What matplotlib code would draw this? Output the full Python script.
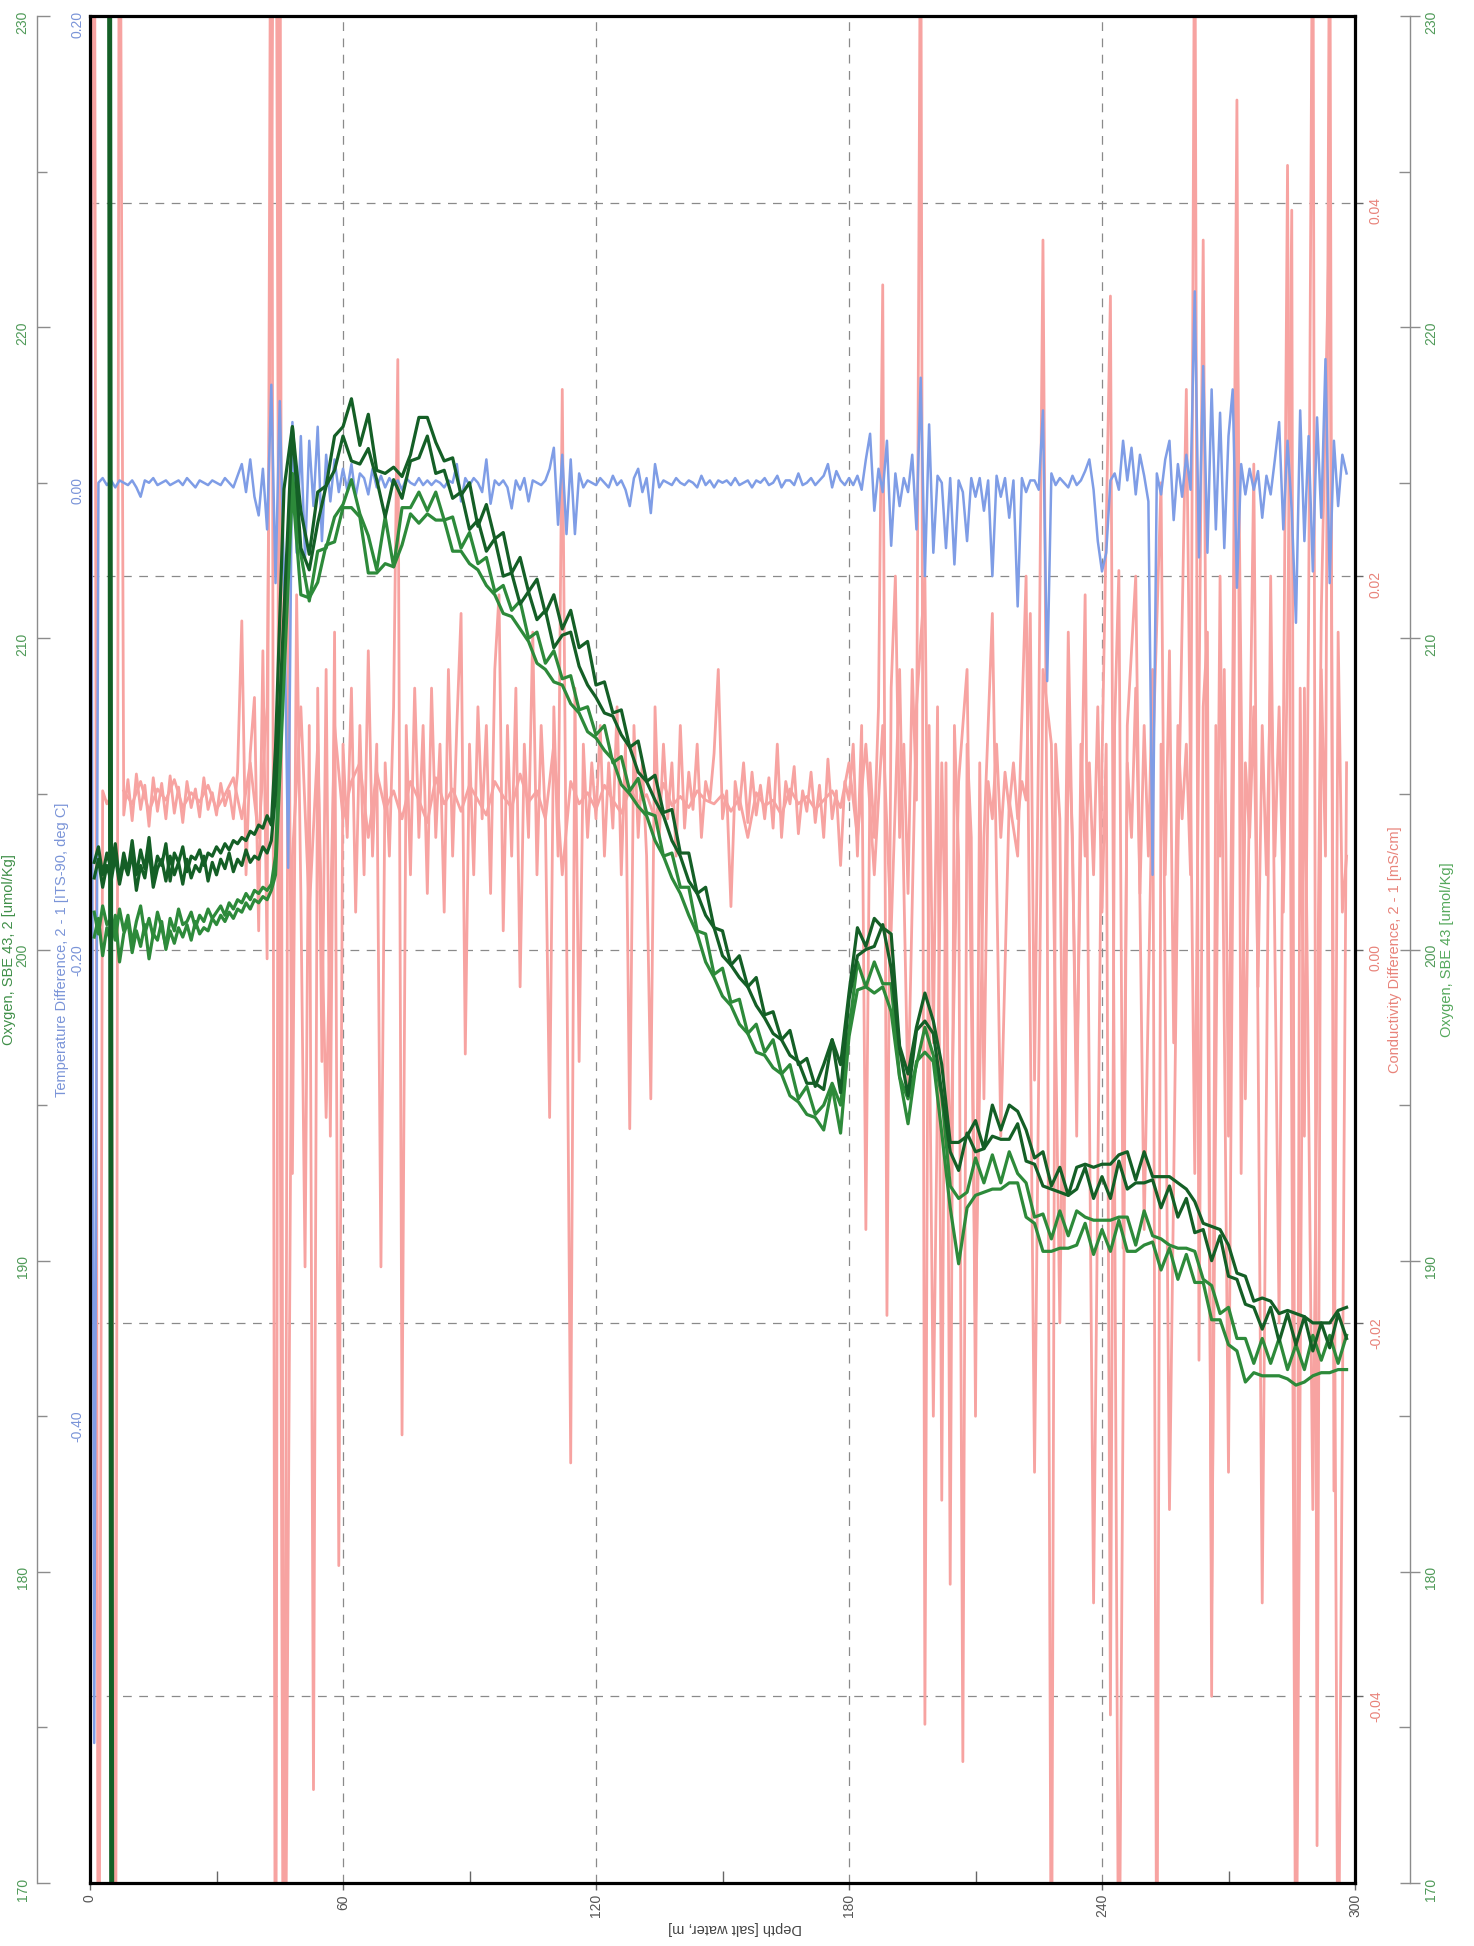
import matplotlib
matplotlib.use("Agg")
import matplotlib.pyplot as plt
from matplotlib.ticker import MultipleLocator, FixedLocator

plt.rcParams['font.family'] = ['Liberation Sans', 'DejaVu Sans']

# ---------------- data ----------------
# oxygen traces, 1 m steps to 44 m then 2 m steps
ox_depth = list(range(1, 45)) + list(range(46, 299, 2))

ox_dark1 = [202.8, 203.3, 202.4, 203.1, 202.6, 203.4, 202.2, 203.1, 202.5, 203.5,
            202.4, 203.2, 202.6, 203.6, 202.3, 203.0, 202.7, 203.4, 202.2, 203.1,
            202.8, 203.3, 202.5, 203.0, 202.9, 203.2, 202.7, 203.1, 203.0, 203.3,
            203.1, 203.4, 203.2, 203.5, 203.4, 203.6, 203.5, 203.8, 203.7, 204.0,
            203.9, 204.3, 204.0, 206.5,
            214.8, 216.8, 214.1, 212.7, 214.7, 214.9, 216.5, 216.8, 217.7, 216.2,
            217.2, 215.4, 215.3, 215.5, 215.2, 215.9, 217.1, 217.1, 216.3, 215.7,
            215.8, 214.6, 215.0, 213.6, 214.3, 213.2, 213.4, 212.1, 212.6, 211.5,
            211.9, 210.8, 211.4, 210.3, 210.9, 209.7, 209.9, 208.5, 208.6, 207.6,
            207.7, 206.5, 206.7, 205.4, 205.6, 204.4, 204.5, 203.1, 203.1, 201.8,
            202.0, 200.7, 200.6, 199.5, 199.8, 198.8, 199.1, 197.9, 198.0, 197.1,
            197.4, 196.3, 196.5, 195.6, 196.3, 197.1, 196.3, 198.6, 200.7, 200.1,
            201.0, 200.7, 200.5, 196.9, 196.0, 197.5, 198.6, 197.7, 196.3, 193.8,
            193.8, 194.0, 194.5, 193.6, 195.0, 194.2, 195.0, 194.8, 194.2, 193.3,
            193.5, 192.4, 193.0, 192.1, 193.0, 193.1, 193.0, 193.1, 193.1, 193.4,
            193.5, 192.6, 193.5, 192.7, 192.7, 192.7, 192.5, 192.3, 191.9, 191.2,
            191.1, 191.0, 190.5, 189.6, 189.5, 188.7, 188.8, 188.7, 188.3, 188.4,
            188.3, 188.2, 188.0, 188.0, 188.0, 188.4, 188.5]

ox_dark2 = [202.3, 202.9, 202.0, 202.7, 202.2, 203.0, 202.1, 202.8, 202.4, 203.1,
            201.9, 202.7, 202.3, 203.2, 202.0, 202.6, 202.9, 202.2, 203.0, 202.4,
            202.8, 202.1, 202.9, 202.3, 202.7, 202.5, 203.0, 202.2, 202.8, 202.4,
            202.9, 202.6, 203.1, 202.5, 202.9, 202.7, 203.2, 202.8, 203.0, 202.9,
            203.3, 203.1, 203.5, 205.0,
            210.8, 216.8, 212.9, 212.2, 213.7, 214.9, 215.4, 216.5, 215.7, 215.6,
            216.1, 215.1, 213.9, 215.1, 214.5, 215.7, 215.8, 216.5, 215.3, 215.4,
            214.5, 214.7, 213.5, 213.8, 212.8, 213.2, 212.0, 212.1, 211.1, 211.5,
            210.6, 210.9, 209.7, 210.1, 210.2, 209.1, 208.5, 208.1, 207.6, 207.5,
            206.9, 206.5, 205.7, 205.4, 204.8, 204.3, 203.5, 203.0, 202.2, 201.8,
            201.1, 200.7, 199.8, 199.5, 199.1, 198.8, 198.2, 197.8, 197.3, 197.1,
            196.6, 196.4, 195.7, 195.7, 195.5, 197.1, 195.4, 198.4, 199.8, 200.0,
            200.1, 200.8, 199.4, 196.8, 195.3, 197.4, 197.7, 197.3, 195.4, 193.5,
            192.9, 194.1, 193.5, 193.6, 194.0, 193.9, 193.9, 194.4, 193.2, 193.1,
            192.4, 192.3, 192.2, 192.1, 192.3, 193.0, 192.0, 192.7, 192.0, 193.2,
            192.3, 192.5, 192.5, 192.6, 191.7, 192.4, 191.4, 192.0, 190.9, 191.0,
            190.0, 190.8, 189.5, 189.4, 188.6, 188.5, 187.8, 188.5, 187.4, 188.3,
            187.3, 188.2, 187.1, 188.0, 187.2, 188.3, 187.5]

ox_mid1 = [201.2, 200.5, 201.4, 200.8, 201.0, 200.3, 201.3, 200.6, 201.1, 200.2,
           200.9, 201.4, 200.5, 201.0, 200.4, 201.2, 200.7, 200.1, 201.0, 200.6,
           201.3, 200.8, 200.9, 201.2, 200.7, 201.1, 200.9, 201.3, 201.0, 201.2,
           201.4, 201.1, 201.5, 201.3, 201.6, 201.5, 201.8, 201.6, 201.9, 201.8,
           202.0, 201.9, 202.1, 203.0,
           210.2, 215.3, 212.7, 211.2, 212.8, 212.9, 213.9, 214.3, 215.1, 214.0,
           213.3, 212.2, 213.9, 212.3, 214.2, 214.2, 214.7, 214.1, 214.7, 213.8,
           213.9, 212.9, 213.4, 212.4, 212.6, 211.5, 211.7, 210.9, 211.2, 210.0,
           210.2, 209.2, 209.6, 208.7, 208.8, 207.7, 207.8, 206.9, 207.2, 206.0,
           206.2, 205.1, 205.5, 204.4, 204.3, 203.0, 203.1, 202.0, 202.0, 200.6,
           200.5, 199.2, 199.4, 198.3, 198.4, 197.3, 197.6, 196.7, 197.1, 196.0,
           196.3, 195.2, 195.6, 194.7, 195.0, 195.7, 195.0, 197.4, 199.6, 198.8,
           199.6, 198.9, 198.9, 195.9, 195.2, 196.3, 197.5, 196.6, 195.3, 192.4,
           192.0, 192.2, 193.3, 192.5, 193.4, 192.5, 193.5, 192.8, 192.5, 191.4,
           191.5, 190.7, 191.6, 190.8, 191.6, 191.4, 191.3, 191.3, 191.3, 191.4,
           191.4, 190.5, 191.6, 190.8, 190.7, 190.5, 190.4, 190.4, 190.3, 189.4,
           189.2, 188.3, 188.5, 187.5, 187.5, 186.7, 187.5, 186.7, 187.5, 186.5,
           187.3, 186.5, 187.6, 186.8, 187.6, 186.7, 187.6]

ox_mid2 = [200.4, 201.0, 199.8, 200.7, 200.2, 201.1, 199.6, 200.5, 200.9, 199.9,
           200.6, 200.1, 200.8, 199.7, 200.5, 200.3, 200.9, 200.0, 200.6, 200.2,
           200.7, 200.4, 200.8, 200.3, 200.9, 200.5, 200.7, 200.6, 201.0, 200.8,
           201.1, 200.9, 201.2, 201.0, 201.3, 201.2, 201.5, 201.3, 201.6, 201.5,
           201.7, 201.6, 201.9, 202.4,
           208.7, 214.9, 211.4, 211.3, 211.8, 213.0, 213.1, 214.2, 214.2, 213.9,
           212.1, 212.1, 212.4, 212.3, 213.0, 214.0, 213.7, 214.0, 213.8, 213.8,
           212.8, 212.8, 212.4, 212.2, 211.7, 211.4, 210.8, 210.7, 210.3, 209.9,
           209.2, 209.0, 208.6, 208.5, 207.9, 207.6, 207.0, 206.8, 206.4, 206.1,
           205.3, 205.0, 204.6, 204.3, 203.5, 203.0, 202.3, 201.8, 201.1, 200.5,
           199.6, 199.1, 198.5, 198.2, 197.6, 197.3, 196.7, 196.6, 196.2, 196.0,
           195.3, 195.1, 194.7, 194.6, 194.2, 195.6, 194.1, 197.2, 198.7, 198.8,
           198.6, 198.8, 198.0, 195.9, 194.4, 196.4, 196.7, 196.4, 194.1, 191.7,
           189.9, 191.7, 192.1, 192.2, 192.3, 192.3, 192.5, 192.5, 191.4, 191.2,
           190.3, 190.3, 190.4, 190.4, 190.5, 191.2, 190.2, 191.0, 190.3, 191.3,
           190.3, 190.3, 190.5, 190.6, 189.7, 190.4, 189.4, 190.2, 189.3, 189.3,
           188.1, 188.1, 187.3, 187.1, 186.1, 186.4, 186.3, 186.3, 186.3, 186.2,
           186.0, 186.1, 186.3, 186.4, 186.4, 186.5, 186.5]

# surface excursion of the oxygen sensor (off scale both ways)
ox_surf_depth = [4.5, 5.3]
ox_surf_val = [250.0, 150.0]

# temperature difference, 1 m steps
temp_depth = list(range(0, 299))
temp_diff = [0.300, -0.540, 0.000, 0.002, -0.001, 0.001, -0.002, 0.001, 0.000, -0.001,
             0.001, -0.002, -0.006, 0.001, 0.000, 0.002, -0.001, 0.000, 0.001, -0.001,
             0.000, 0.001, -0.001, 0.002, 0.000, -0.002, 0.001, 0.000, -0.001, 0.001,
             0.000, -0.001, 0.002, 0.000, -0.002, 0.003, 0.008, -0.004, 0.010, -0.006,
             -0.014, 0.006, -0.020, 0.042, -0.043, 0.035, -0.040, -0.165, 0.026, -0.030,
             0.020, -0.032, 0.018, -0.010, 0.024, -0.025, 0.012, -0.008, 0.010, -0.004,
             0.006, -0.003, 0.008, -0.006, 0.004, 0.002, -0.005, 0.006, -0.002, 0.003,
             -0.002, 0.002, -0.001, 0.001, -0.003, 0.002, 0.000, -0.001, 0.002, -0.001,
             0.001, -0.001, 0.001, 0.000, -0.002, 0.001, 0.000, 0.008, -0.008, 0.002,
             -0.001, 0.002, 0.000, -0.004, 0.010, -0.009, 0.001, -0.001, 0.001, -0.002,
             -0.011, 0.001, -0.003, 0.002, -0.008, 0.001, 0.000, -0.001, 0.001, 0.006,
             0.015, -0.018, 0.012, -0.022, 0.010, -0.022, 0.004, -0.002, 0.001, 0.000,
             -0.001, 0.002, 0.000, -0.002, 0.003, -0.001, 0.001, -0.003, -0.010, 0.002,
             0.006, -0.004, 0.002, -0.013, 0.008, -0.002, 0.001, 0.000, -0.001, 0.002,
             0.000, -0.001, 0.001, 0.000, -0.002, 0.003, -0.001, 0.001, -0.002, 0.001,
             0.000, 0.001, -0.001, 0.002, -0.001, 0.000, 0.001, -0.002, 0.001, 0.000,
             0.002, -0.001, 0.000, 0.003, -0.002, 0.001, 0.001, -0.001, 0.004, -0.001,
             0.000, 0.002, -0.001, 0.001, 0.003, 0.008, -0.002, 0.005, 0.001, -0.001,
             0.002, -0.001, 0.003, -0.003, 0.010, 0.021, -0.012, 0.006, -0.004, 0.018,
             -0.027, 0.004, -0.010, 0.002, -0.004, 0.012, -0.020, 0.045, -0.040, 0.025,
             -0.030, 0.003, 0.000, -0.028, 0.002, -0.035, 0.001, -0.004, -0.025, 0.002,
             -0.006, 0.002, -0.012, 0.001, -0.040, 0.003, -0.006, 0.002, -0.015, 0.001,
             -0.053, 0.002, -0.004, 0.001, 0.001, -0.003, 0.031, -0.085, 0.004, -0.001,
             0.002, 0.000, -0.002, 0.003, -0.001, 0.001, 0.005, 0.010, -0.003, -0.025,
             -0.038, -0.030, 0.001, 0.004, -0.003, 0.018, 0.001, 0.015, -0.005, 0.012,
             0.003, -0.008, -0.168, 0.004, -0.005, 0.010, 0.018, -0.016, 0.008, -0.006,
             0.012, -0.003, 0.082, -0.032, 0.050, -0.030, 0.040, -0.020, 0.030, -0.028,
             0.020, 0.040, -0.045, 0.008, -0.005, 0.006, -0.003, 0.005, -0.015, 0.003,
             -0.005, 0.010, 0.026, -0.020, 0.018, -0.012, -0.060, 0.031, -0.025, 0.020,
             -0.038, 0.028, -0.015, 0.053, -0.043, 0.018, -0.010, 0.012, 0.004]

# conductivity difference, trace A (1 m steps) and trace B (2 m steps)
cond_a_depth = list(range(0, 299))
cond_a = [0.0080, 0.0700, -0.0700, 0.0085, 0.0078, 0.0082, -0.0700, 0.0700, 0.0072, 0.0091,
          0.0069, 0.0094, 0.0075, 0.0088, 0.0066, 0.0092, 0.0074, 0.0089, 0.0070, 0.0093,
          0.0073, 0.0087, 0.0068, 0.0090, 0.0076, 0.0086, 0.0071, 0.0092, 0.0075, 0.0084,
          0.0072, 0.0089, 0.0077, 0.0085, 0.0070, 0.0095, 0.0176, 0.0040, 0.0105, 0.0135,
          0.0010, 0.0160, -0.0005, 0.0700, -0.0700, 0.0700, -0.0700, 0.0200, -0.0120, 0.0190,
          0.0030, -0.0170, 0.0120, -0.0450, 0.0140, -0.0060, 0.0150, -0.0100, 0.0170, -0.0330,
          0.0110, 0.0060, 0.0140, 0.0020, 0.0120, 0.0040, 0.0160, 0.0050, 0.0110, -0.0170,
          0.0100, 0.0050, 0.0130, 0.0316, -0.0260, 0.0120, 0.0040, 0.0140, 0.0060, 0.0120,
          0.0030, 0.0140, 0.0060, 0.0110, 0.0020, 0.0150, 0.0050, 0.0120, 0.0180, -0.0056,
          0.0110, 0.0040, 0.0130, 0.0070, 0.0120, 0.0030, 0.0150, 0.0190, 0.0010, 0.0120,
          0.0050, 0.0140, -0.0020, 0.0110, 0.0060, 0.0170, 0.0040, 0.0120, 0.0070, -0.0090,
          0.0130, 0.0050, 0.0300, 0.0020, -0.0275, 0.0140, -0.0060, 0.0110, 0.0060, 0.0100,
          0.0070, 0.0120, 0.0050, 0.0100, 0.0065, 0.0130, 0.0040, 0.0110, -0.0096, 0.0120,
          0.0060, 0.0100, 0.0050, -0.0080, 0.0130, 0.0060, 0.0110, 0.0070, 0.0100, 0.0050,
          0.0120, 0.0065, 0.0095, 0.0075, 0.0110, 0.0060, 0.0090, 0.0080, 0.0105, 0.0150,
          0.0070, 0.0085, 0.0023, 0.0090, 0.0075, 0.0100, 0.0068, 0.0095, 0.0072, 0.0088,
          0.0070, 0.0092, 0.0065, 0.0110, 0.0060, 0.0090, 0.0078, 0.0098, 0.0062, 0.0085,
          0.0074, 0.0095, 0.0068, 0.0088, 0.0060, 0.0102, 0.0070, 0.0085, 0.0045, 0.0090,
          0.0080, 0.0110, 0.0050, 0.0120, -0.0150, 0.0100, 0.0060, 0.0130, 0.0356, -0.0196,
          0.0140, 0.0200, 0.0060, 0.0110, 0.0030, 0.0150, 0.0080, 0.0600, -0.0415, 0.0120,
          -0.0050, 0.0130, -0.0295, 0.0100, -0.0340, 0.0120, 0.0050, -0.0435, 0.0110, 0.0060,
          -0.0250, 0.0100, -0.0080, 0.0090, 0.0070, 0.0110, 0.0060, 0.0095, 0.0075, 0.0100,
          0.0070, 0.0090, 0.0080, 0.0180, -0.0070, 0.0120, 0.0380, 0.0040, -0.0600, 0.0110,
          0.0070, -0.0160, 0.0120, 0.0060, -0.0100, 0.0110, 0.0050, 0.0100, 0.0040, 0.0130,
          0.0020, 0.0110, -0.0410, 0.0120, 0.0203, -0.0160, 0.0100, 0.0060, 0.0140, 0.0030,
          0.0120, 0.0050, 0.0150, -0.0600, 0.0110, 0.0040, 0.0160, -0.0050, 0.0120, 0.0070,
          0.0110, 0.0040, 0.0600, -0.0220, 0.0130, 0.0170, -0.0400, 0.0120, 0.0050, 0.0150,
          -0.0100, 0.0140, 0.0455, -0.0120, 0.0100, 0.0060, 0.0130, -0.0020, 0.0120, 0.0040,
          0.0150, 0.0050, 0.0130, 0.0020, 0.0160, 0.0396, -0.0600, 0.0140, -0.0100, 0.0180,
          0.0600, -0.0480, 0.0150, 0.0050, 0.0600, -0.0290, 0.0170, 0.0020, 0.0050]

cond_b_depth = list(range(8, 299, 2))
cond_b = [0.0085, 0.0078, 0.0090, 0.0074, 0.0086, 0.0080, 0.0091, 0.0076, 0.0084, 0.0079,
          0.0088, 0.0075, 0.0083, 0.0092, 0.0070, 0.0100, 0.0060, 0.0130, 0.0700, -0.0700,
          0.0050, 0.0130, 0.0020, 0.0110, -0.0090, 0.0120, 0.0070, 0.0090, 0.0100, 0.0060,
          0.0095, 0.0075, 0.0085, 0.0070, 0.0090, 0.0080, 0.0068, 0.0092, 0.0078, 0.0086,
          0.0074, 0.0088, 0.0080, 0.0072, 0.0090, 0.0082, 0.0076, 0.0094, 0.0079, 0.0085,
          0.0070, 0.0110, 0.0040, 0.0090, 0.0078, 0.0084, 0.0075, 0.0088, 0.0080, 0.0073,
          0.0086, 0.0079, 0.0083, 0.0070, 0.0089, 0.0077, 0.0082, 0.0076, 0.0085, 0.0080,
          0.0078, 0.0083, 0.0074, 0.0081, 0.0060, 0.0084, 0.0077, 0.0080, 0.0072, 0.0086,
          0.0078, 0.0082, 0.0075, 0.0080, 0.0085, 0.0076, 0.0100, 0.0060, 0.0110, 0.0040,
          0.0120, 0.0010, 0.0150, -0.0080, 0.0130, 0.0200, -0.0250, 0.0100, -0.0120, 0.0090,
          0.0150, -0.0200, 0.0060, 0.0180, -0.0100, 0.0080, 0.0050, 0.0200, -0.0280, 0.0150,
          0.0110, -0.0200, 0.0170, -0.0070, 0.0190, -0.0350, 0.0100, 0.0350, -0.0600, 0.0120,
          0.0200, -0.0150, 0.0100, 0.0250, -0.0300, 0.0050, 0.0300, -0.0120, 0.0380, -0.0350,
          0.0200, -0.0280, 0.0350, -0.0080, 0.0260, -0.0350, 0.0200, -0.0200, 0.0420, -0.0600,
          0.0140, -0.0300, 0.0180, 0.0400, -0.0600, 0.0100]

depth_ticks = [0, 60, 120, 180, 240, 300]
temp_ticks = [0.20, 0.00, -0.20, -0.40]
cond_ticks = [0.04, 0.02, 0.00, -0.02, -0.04]
oxy_ticks = [170, 180, 190, 200, 210, 220, 230]

# ---------------- style ----------------
PINK = '#f7a3a1'
BLUE = '#7f9de6'
DKGREEN = '#145f26'
MDGREEN = '#2d8a3a'
PINK_TXT = '#e8837a'
BLUE_TXT = '#7a94d8'
GREEN_TXT = '#4f9a58'
GRID = '#8a8a8a'

W, H = 1474, 1946
fig = plt.figure(figsize=(W / 100, H / 100), dpi=100)
rect = [90 / W, (H - 1883) / H, 1265 / W, 1867 / H]

ax_c = fig.add_axes(rect, label='cond', zorder=1)
ax_t = fig.add_axes(rect, label='temp', zorder=2, facecolor='none')
ax_o = fig.add_axes(rect, label='oxy2', zorder=3, facecolor='none')
ax_o2 = fig.add_axes(rect, label='oxy', zorder=4, facecolor='none')
frame = fig.add_axes(rect, label='frame', zorder=5, facecolor='none')

for a in (ax_c, ax_t, ax_o, ax_o2, frame):
    a.set_xlim(0, 300)
    for s in a.spines.values():
        s.set_visible(False)

# conductivity (bottom layer, carries grid and depth axis)
ax_c.plot(cond_a_depth, cond_a, color=PINK, lw=2.0)
ax_c.plot(cond_b_depth, cond_b, color=PINK, lw=2.0)
ax_c.set_ylim(-0.05, 0.05)
ax_c.yaxis.tick_right()
ax_c.set_yticks(cond_ticks)
ax_c.set_yticklabels(['%.2f' % v for v in cond_ticks])
ax_c.tick_params(axis='y', labelcolor=PINK_TXT, color='#666666', labelrotation=90,
                 length=6, width=1, pad=4, labelsize=10)
ax_c.set_xticks(depth_ticks)
ax_c.xaxis.set_minor_locator(FixedLocator([30, 90, 150, 210, 270]))
ax_c.tick_params(axis='x', which='major', direction='out', length=5, width=1,
                 color='#666666', labelcolor='#555555', labelrotation=90, labelsize=10, pad=3)
ax_c.tick_params(axis='x', which='minor', direction='in', length=9, width=1, color='#666666')
ax_c.grid(axis='both', which='major', color=GRID, lw=0.9, linestyle=(0, (7, 6)))
ax_c.set_axisbelow(True)

# temperature difference
ax_t.plot(temp_depth, temp_diff, color=BLUE, lw=1.8)
ax_t.set_ylim(-0.6, 0.2)
ax_t.set_yticks(temp_ticks)
ax_t.set_yticklabels(['%.2f' % v for v in temp_ticks])
ax_t.tick_params(axis='y', labelcolor=BLUE_TXT, labelrotation=90, length=0, pad=4, labelsize=10)
ax_t.xaxis.set_visible(False)

# oxygen (left outer axis)
ax_o.plot(ox_depth, ox_mid2, color=MDGREEN, lw=2.3)
ax_o.plot(ox_depth, ox_mid1, color=MDGREEN, lw=2.3)
ax_o.plot(ox_depth, ox_dark2, color=DKGREEN, lw=2.3)
ax_o.plot(ox_depth, ox_dark1, color=DKGREEN, lw=2.3)
ax_o.plot(ox_surf_depth, ox_surf_val, color=DKGREEN, lw=3.6)
ax_o.set_ylim(170, 230)
ax_o.spines['left'].set_visible(True)
ax_o.spines['left'].set_position(('outward', 38.5))
ax_o.spines['left'].set_color('#8c8c8c')
ax_o.spines['left'].set_linewidth(1)
ax_o.set_yticks(oxy_ticks)
ax_o.yaxis.set_minor_locator(MultipleLocator(5))
ax_o.tick_params(axis='y', which='major', direction='in', length=9, width=1, color='#8c8c8c',
                 labelcolor=GREEN_TXT, labelrotation=90, pad=5, labelsize=10)
ax_o.tick_params(axis='y', which='minor', direction='in', length=7, width=1, color='#8c8c8c')
ax_o.xaxis.set_visible(False)

# oxygen (right outer axis)
ax_o2.set_ylim(170, 230)
ax_o2.yaxis.tick_right()
ax_o2.spines['right'].set_visible(True)
ax_o2.spines['right'].set_position(('outward', 39.6))
ax_o2.spines['right'].set_color('#8c8c8c')
ax_o2.spines['right'].set_linewidth(1)
ax_o2.set_yticks(oxy_ticks)
ax_o2.yaxis.set_minor_locator(MultipleLocator(5))
ax_o2.tick_params(axis='y', which='major', direction='inout', length=14, width=1, color='#8c8c8c',
                  labelcolor=GREEN_TXT, labelrotation=90, pad=3, labelsize=10)
ax_o2.tick_params(axis='y', which='minor', direction='in', length=8, width=1, color='#8c8c8c')
ax_o2.xaxis.set_visible(False)

# plot frame
frame.set_xticks([])
frame.set_yticks([])
for s in frame.spines.values():
    s.set_visible(True)
    s.set_color('black')
    s.set_linewidth(2.3)

# axis titles (rotated like the scanned page)
yc = (H - 950) / H
fig.text(9 / W, yc, 'Oxygen, SBE 43, 2 [umol/Kg]', rotation=90, ha='center', va='center',
         color='#3f8f48', fontsize=10.5)
fig.text(62 / W, yc, 'Temperature Difference, 2 - 1 [ITS-90, deg C]', rotation=90,
         ha='center', va='center', color=BLUE_TXT, fontsize=10.5)
fig.text(1395 / W, yc, 'Conductivity Difference, 2 - 1 [mS/cm]', rotation=90,
         ha='center', va='center', color=PINK_TXT, fontsize=10.5)
fig.text(1447 / W, yc, 'Oxygen, SBE 43 [umol/Kg]', rotation=90, ha='center', va='center',
         color='#55a85c', fontsize=10.5)
fig.text(735 / W, (H - 1928) / H, 'Depth [salt water, m]', rotation=180, ha='center',
         va='center', color='#444444', fontsize=10.5)

fig.savefig('out.png', dpi=100)
